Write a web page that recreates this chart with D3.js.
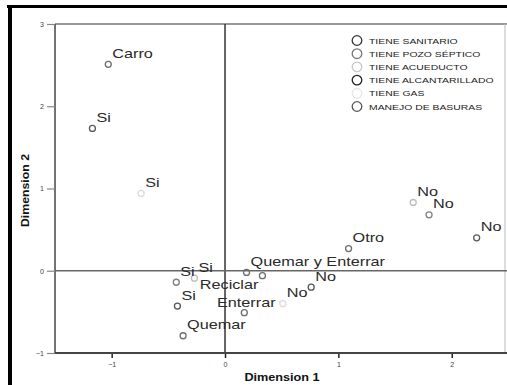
<!DOCTYPE html>
<html><head><meta charset="utf-8">
<script src="https://cdn.jsdelivr.net/npm/d3@7"></script>
<style>body{margin:0;background:#fff;}svg{display:block;font-family:"Liberation Sans",Arial,sans-serif;}</style>
</head><body>
<svg id="c" width="507" height="385"></svg>
<script>
// ---- data ----
const labels   = ["Carro","Si","Si","No","No","No","Otro","Quemar y Enterrar","Reciclar","No","No","Enterrar","Si","Si","Si","Quemar"];
const dim1     = [-1.03,-1.17,-0.74,1.66,1.80,2.22,1.09,0.19,0.33,0.76,0.51,0.17,-0.43,-0.27,-0.42,-0.37];
const dim2     = [2.51,1.73,0.94,0.83,0.68,0.40,0.27,-0.02,-0.06,-0.20,-0.40,-0.51,-0.14,-0.09,-0.43,-0.79];
const groups   = ["MANEJO DE BASURAS","TIENE SANITARIO","TIENE GAS","TIENE ACUEDUCTO","TIENE POZO SÉPTICO","TIENE SANITARIO","MANEJO DE BASURAS","MANEJO DE BASURAS","MANEJO DE BASURAS","TIENE ALCANTARILLADO","TIENE GAS","MANEJO DE BASURAS","TIENE POZO SÉPTICO","TIENE ACUEDUCTO","TIENE ALCANTARILLADO","MANEJO DE BASURAS"];
const legendItems = ["TIENE SANITARIO","TIENE POZO SÉPTICO","TIENE ACUEDUCTO","TIENE ALCANTARILLADO","TIENE GAS","MANEJO DE BASURAS"];
const xTicks = [-1,0,1,2];
const yTicks = [-1,0,1,2,3];
const xTitle = "Dimension 1";
const yTitle = "Dimension 2";

// ---- styles ----
const pointColor = {"TIENE SANITARIO":"#5a5a5a","TIENE POZO SÉPTICO":"#808080","TIENE ACUEDUCTO":"#bdbdbd","TIENE ALCANTARILLADO":"#555","TIENE GAS":"#dcdcdc","MANEJO DE BASURAS":"#6e6e6e"};
const legendColor = {"TIENE SANITARIO":"#333","TIENE POZO SÉPTICO":"#777","TIENE ACUEDUCTO":"#c8c8c8","TIENE ALCANTARILLADO":"#222","TIENE GAS":"#e6e6e6","MANEJO DE BASURAS":"#555"};
// label placement: default upper-right; exceptions by index
const placement = {8:"ll", 11:"top"};

const svg = d3.select("#c");
const L=55, R=505, T=24, B=353;
const x = d3.scaleLinear().domain([-1.5,2.47]).range([L,R]);
const y = d3.scaleLinear().domain([-1,3]).range([B,T]);

// outer black border
svg.append("rect").attr("x",7).attr("y",5).attr("width",500).attr("height",3).attr("fill","#000");
svg.append("rect").attr("x",8).attr("y",5).attr("width",4).attr("height",380).attr("fill","#000");

// frame
svg.append("line").attr("x1",L).attr("x2",R+2).attr("y1",T).attr("y2",T).attr("stroke","#777").attr("stroke-width",1.3);
svg.append("line").attr("x1",R).attr("x2",R).attr("y1",T).attr("y2",B).attr("stroke","#bbb").attr("stroke-width",1);
svg.append("line").attr("x1",L).attr("x2",L).attr("y1",T).attr("y2",B).attr("stroke","#444").attr("stroke-width",1.5);

// zero reference lines
svg.append("line").attr("x1",x(0)).attr("x2",x(0)).attr("y1",T).attr("y2",B).attr("stroke","#333").attr("stroke-width",1.5);
svg.append("line").attr("x1",L).attr("x2",R+2).attr("y1",y(0)).attr("y2",y(0)).attr("stroke","#666").attr("stroke-width",1.5);

// axes
const gx = svg.append("g").attr("transform",`translate(0,${B})`)
  .call(d3.axisBottom(x).tickValues(xTicks).tickSize(5).tickFormat(d3.format("d")));
gx.select(".domain").remove();
gx.append("line").attr("x1",L).attr("x2",R+2).attr("y1",0).attr("y2",0).attr("stroke","#444").attr("stroke-width",2);
gx.selectAll(".tick line").attr("stroke","#222").attr("stroke-width",1.5);
gx.selectAll(".tick text").attr("y",9).attr("font-size",7).attr("fill","#444").attr("font-family","Liberation Sans, Arial");

const gy = svg.append("g").attr("transform",`translate(${L},0)`)
  .call(d3.axisLeft(y).tickValues(yTicks).tickSize(8).tickFormat(d3.format("d")));
gy.select(".domain").remove();
gy.selectAll(".tick line").attr("stroke","#888").attr("stroke-width",1.2);
gy.selectAll(".tick text").attr("x",-11).attr("font-size",7).attr("fill","#444").attr("font-family","Liberation Sans, Arial");

// axis titles
svg.append("text").attr("transform",`translate(${(L+R)/2+2},381) scale(1.15,1)`)
  .attr("text-anchor","middle").attr("font-size",11).attr("font-weight","bold").attr("fill","#111").text(xTitle);
svg.append("text").attr("transform",`translate(29,${(T+B)/2+2}) rotate(-90) scale(1.12,1)`)
  .attr("text-anchor","middle").attr("font-size",11).attr("font-weight","bold").attr("fill","#111").text(yTitle);

// points
const idx = d3.range(labels.length);
svg.append("g").selectAll("circle").data(idx).join("circle")
  .attr("cx",i=>x(dim1[i])).attr("cy",i=>y(dim2[i])).attr("r",3)
  .attr("fill","none").attr("stroke",i=>pointColor[groups[i]]).attr("stroke-width",1.3);

// labels
svg.append("g").selectAll("text").data(idx).join("text")
  .attr("transform",i=>{
    const px=x(dim1[i]), py=y(dim2[i]), p=placement[i];
    if(p==="ll") return `translate(${px-4},${py+13}) scale(1.3,1)`;
    if(p==="top") return `translate(${px+2},${py-6}) scale(1.3,1)`;
    return `translate(${px+4},${py-6.5}) scale(1.3,1)`;
  })
  .attr("text-anchor",i=>placement[i]==="ll"?"end":placement[i]==="top"?"middle":"start")
  .attr("font-size",12.5).attr("fill","#2a2a2a").text(i=>labels[i]);

// legend
const lg = svg.append("g");
legendItems.forEach((name,k)=>{
  const yy = 40.5 + k*13.2;
  lg.append("circle").attr("cx",357).attr("cy",yy).attr("r",4.8).attr("fill","none")
    .attr("stroke",legendColor[name]).attr("stroke-width",1.3);
  lg.append("text").attr("transform",`translate(369,${yy+3}) scale(1.3,1)`)
    .attr("font-size",8).attr("fill","#222").text(name);
});
</script>
</body></html>
